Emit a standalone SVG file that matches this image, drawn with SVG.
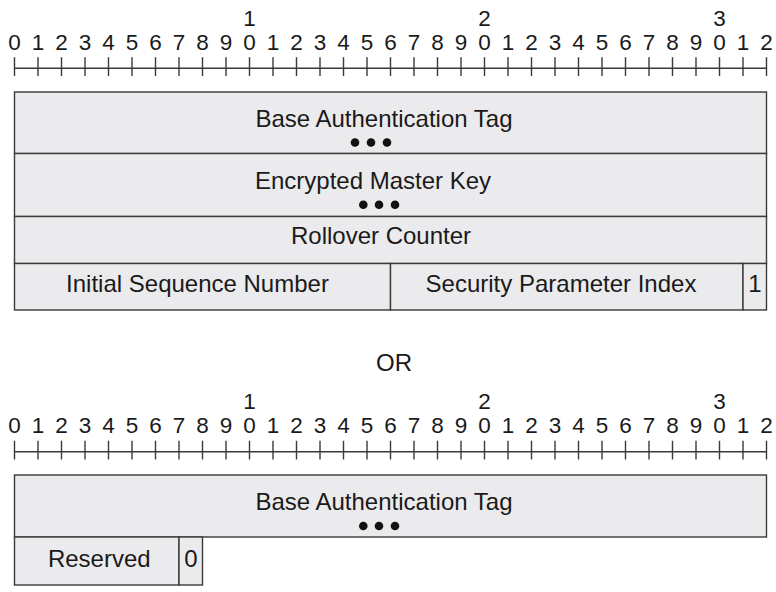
<svg xmlns="http://www.w3.org/2000/svg" width="776" height="592" viewBox="0 0 776 592">
<style>
.f{fill:#ebebed;stroke:#3a3a3a;stroke-width:1.4}
.t{font-family:"Liberation Sans",Arial,Helvetica,sans-serif;font-size:24px;fill:#1a1a1a;text-anchor:middle}
.d{font-family:"Liberation Sans",Arial,Helvetica,sans-serif;font-size:22.5px;fill:#1a1a1a;text-anchor:middle}
.r{stroke:#3a3a3a;stroke-width:1.4;fill:none}
.dot{fill:#111}
</style>
<defs>
<g id="ruler">
<path class="r" d="M14.5 68.3H766.5 M14.5 57.3V76 M38 57.3V76 M61.5 57.3V76 M85 57.3V76 M108.5 57.3V76 M132 57.3V76 M155.5 57.3V76 M179 57.3V76 M202.5 57.3V76 M226 57.3V76 M249.5 57.3V76 M273 57.3V76 M296.5 57.3V76 M320 57.3V76 M343.5 57.3V76 M367 57.3V76 M390.5 57.3V76 M414 57.3V76 M437.5 57.3V76 M461 57.3V76 M484.5 57.3V76 M508 57.3V76 M531.5 57.3V76 M555 57.3V76 M578.5 57.3V76 M602 57.3V76 M625.5 57.3V76 M649 57.3V76 M672.5 57.3V76 M696 57.3V76 M719.5 57.3V76 M743 57.3V76 M766.5 57.3V76"/>
<text class="d" x="249.5" y="26">1</text>
<text class="d" x="484.5" y="26">2</text>
<text class="d" x="719.5" y="26">3</text>
<text class="d" x="14.5" y="50">0</text><text class="d" x="38" y="50">1</text><text class="d" x="61.5" y="50">2</text><text class="d" x="85" y="50">3</text><text class="d" x="108.5" y="50">4</text><text class="d" x="132" y="50">5</text><text class="d" x="155.5" y="50">6</text><text class="d" x="179" y="50">7</text><text class="d" x="202.5" y="50">8</text><text class="d" x="226" y="50">9</text>
<text class="d" x="249.5" y="50">0</text><text class="d" x="273" y="50">1</text><text class="d" x="296.5" y="50">2</text><text class="d" x="320" y="50">3</text><text class="d" x="343.5" y="50">4</text><text class="d" x="367" y="50">5</text><text class="d" x="390.5" y="50">6</text><text class="d" x="414" y="50">7</text><text class="d" x="437.5" y="50">8</text><text class="d" x="461" y="50">9</text>
<text class="d" x="484.5" y="50">0</text><text class="d" x="508" y="50">1</text><text class="d" x="531.5" y="50">2</text><text class="d" x="555" y="50">3</text><text class="d" x="578.5" y="50">4</text><text class="d" x="602" y="50">5</text><text class="d" x="625.5" y="50">6</text><text class="d" x="649" y="50">7</text><text class="d" x="672.5" y="50">8</text><text class="d" x="696" y="50">9</text>
<text class="d" x="719.5" y="50">0</text><text class="d" x="743" y="50">1</text><text class="d" x="766.5" y="50">2</text>
</g>
</defs>
<g id="ruler-top"><use href="#ruler"/></g>
<g id="ruler-bottom"><use href="#ruler" transform="translate(0,383.4)"/></g>

<g id="base-auth-tag-1">
<rect class="f" x="14.5" y="92" width="752" height="61.5"/>
<text class="t" x="384" y="127">Base Authentication Tag</text>
<circle class="dot" cx="355" cy="142.5" r="4.3"/><circle class="dot" cx="371" cy="142.5" r="4.3"/><circle class="dot" cx="387" cy="142.5" r="4.3"/>
</g>
<g id="encrypted-master-key">
<rect class="f" x="14.5" y="153.5" width="752" height="63"/>
<text class="t" x="373" y="188.5">Encrypted Master Key</text>
<circle class="dot" cx="363.3" cy="204.7" r="4.3"/><circle class="dot" cx="379" cy="204.7" r="4.3"/><circle class="dot" cx="395" cy="204.7" r="4.3"/>
</g>
<g id="rollover-counter">
<rect class="f" x="14.5" y="216.5" width="752" height="47"/>
<text class="t" x="381" y="244">Rollover Counter</text>
</g>
<g id="initial-sequence-number">
<rect class="f" x="14.5" y="263.5" width="376" height="46.5"/>
<text class="t" x="197.5" y="292">Initial Sequence Number</text>
</g>
<g id="security-parameter-index">
<rect class="f" x="390.5" y="263.5" width="352.5" height="46.5"/>
<text class="t" x="561" y="292">Security Parameter Index</text>
</g>
<g id="flag-1">
<rect class="f" x="743" y="263.5" width="23.5" height="46.5"/>
<text class="t" x="755" y="292">1</text>
</g>

<g id="or-label"><text class="t" x="394" y="371">OR</text></g>

<g id="base-auth-tag-2">
<rect class="f" x="14.5" y="475" width="752" height="62"/>
<text class="t" x="384" y="510">Base Authentication Tag</text>
<circle class="dot" cx="363.3" cy="526" r="4.3"/><circle class="dot" cx="379" cy="526" r="4.3"/><circle class="dot" cx="395" cy="526" r="4.3"/>
</g>
<g id="reserved">
<rect class="f" x="14.5" y="537" width="164.5" height="48"/>
<text class="t" x="99.3" y="567">Reserved</text>
</g>
<g id="flag-0">
<rect class="f" x="179" y="537" width="23.5" height="48"/>
<text class="t" x="191" y="567">0</text>
</g>
<g id="connectors"/>
</svg>
